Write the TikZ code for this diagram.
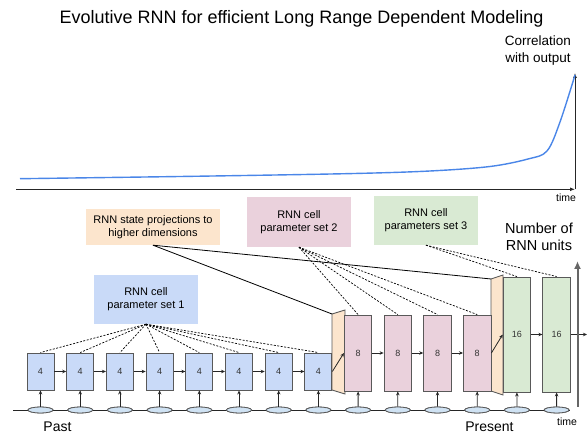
\documentclass[tikz,border=0pt]{standalone}
\usepackage{fontspec}
\setmainfont{Liberation Sans}
\usetikzlibrary{arrows.meta,shapes.geometric}
\definecolor{cblue}{HTML}{C9DAF8}
\definecolor{cpink}{HTML}{EAD1DC}
\definecolor{cgreen}{HTML}{D9EAD3}
\definecolor{corange}{HTML}{FCE5CD}
\definecolor{cinput}{HTML}{CFE2F3}
\definecolor{edgegray}{HTML}{595959}
\definecolor{curveblue}{HTML}{4A86E8}
\begin{document}
\begin{tikzpicture}[x=1pt,y=-1pt,
  cellbox/.style={draw=edgegray, line width=0.9pt, inner sep=0pt, font=\fontsize{9}{10}\selectfont, text=black!80},
  bluecell/.style={cellbox, fill=cblue, minimum width=27pt, minimum height=37pt},
  pinkcell/.style={cellbox, fill=cpink, minimum width=27.5pt, minimum height=76pt},
  greencell/.style={cellbox, fill=cgreen, minimum width=27.5pt, minimum height=115pt},
  param/.style={inner sep=0pt, align=center, font=\fontsize{11}{13}\selectfont},
  inputell/.style={ellipse, draw=edgegray, fill=cinput, line width=0.8pt, minimum width=25pt, minimum height=6pt, inner sep=0pt},
  flow/.style={-{Stealth[length=4pt,width=3.5pt]}, line width=0.8pt, draw=black!85},
  paramlink/.style={dash pattern=on 2pt off 1.5pt, line width=0.7pt},
  trapbox/.style={draw=edgegray, fill=corange, line width=0.9pt},
  axisline/.style={line width=1pt, draw=black!85, -{Latex[length=5pt,width=4pt]}},
  lbl/.style={inner sep=0pt, align=center}
]
\useasboundingbox (0,0) rectangle (587,435);

% ---------- title ----------
\node[lbl, font=\fontsize{18}{20}\selectfont] (title) at (301.5,19) {Evolutive RNN for efficient Long Range Dependent Modeling};

% ---------- top chart ----------
\coordinate (o) at (16,189.3);
\coordinate (xend) at (575,189.3);
\coordinate (ycorner) at (575,189.3);
\coordinate (yend) at (575,73);
\draw[axisline] (o) -- (xend);
\draw[axisline] (ycorner) -- (yend);
\draw[curveblue, line width=1.4pt] plot[smooth, tension=0.55] coordinates
  {(20,178.7) (200,176.2) (350,173.6) (430,171) (490,166.5) (528,159) (547,151) (560,122) (575,75)};
\node[lbl, font=\fontsize{13.5}{17}\selectfont] (corr) at (538,50.5) {Correlation\\with output};
\node[lbl, font=\fontsize{10.5}{12}\selectfont] (time1) at (566,197.5) {time};

% ---------- parameter boxes ----------
\node[param, fill=corange, minimum width=134pt, minimum height=36pt] (proj) at (153,227) {RNN state projections to\\higher dimensions};
\node[param, fill=cblue, minimum width=104pt, minimum height=49pt] (p1) at (146,299.5) {RNN cell\\parameter set 1};
\node[param, fill=cpink, minimum width=104pt, minimum height=50pt] (p2) at (299,222) {RNN cell\\parameter set 2};
\node[param, fill=cgreen, minimum width=104pt, minimum height=49pt] (p3) at (426,220.5) {RNN cell\\parameters set 3};

% ---------- base line and inputs ----------
\coordinate (base0) at (13,410);
\foreach \n in {1,...,14} {
  \node[inputell] (e\n) at ({40.5+39.7*(\n-1)},410) {};
}
\draw[line width=0.9pt, draw=black!85] (base0) -- (e14.east);
\foreach \n in {1,...,14} {
  \node[inputell] at (e\n) {};
}

% ---------- projection trapezoids ----------
\coordinate (t1a) at (332,314);
\coordinate (t1b) at (345,310);
\coordinate (t1c) at (345,394);
\coordinate (t1d) at (332,390);
\coordinate (t2a) at (491,279);
\coordinate (t2b) at (503,275);
\coordinate (t2c) at (503,395);
\coordinate (t2d) at (491,391);
\draw[trapbox] (t1a) -- (t1b) -- (t1c) -- (t1d) -- cycle;
\draw[trapbox] (t2a) -- (t2b) -- (t2c) -- (t2d) -- cycle;

% ---------- cells ----------
\foreach \i in {1,...,8} {
  \node[bluecell] (b\i) at ({40.5+39.7*(\i-1)},371.5) {4};
}
\foreach \j in {1,...,4} {
  \node[pinkcell] (k\j) at ({358.1+39.7*(\j-1)},353) {8};
}
\foreach \g in {1,2} {
  \node[greencell] (g\g) at ({516.9+39.7*(\g-1)},334.5) {16};
}

% ---------- recurrent arrows ----------
\foreach \i [evaluate=\i as \nx using int(\i+1)] in {1,...,7} {
  \draw[flow] (b\i.east) -- (b\nx.west);
}
\draw[flow] (b8.east) -- (k1.west);
\foreach \j [evaluate=\j as \nx using int(\j+1)] in {1,2,3} {
  \draw[flow] (k\j.east) -- (k\nx.west);
}
\draw[flow] (k4.east) -- (g1.west);
\draw[flow] (g1.east) -- (g2.west);
\coordinate (outend) at (587,334.5);
\draw[flow] (g2.east) -- (outend);

% ---------- input arrows ----------
\foreach \i in {1,...,8} {
  \draw[flow] (e\i.north) -- (b\i.south);
}
\foreach \j [evaluate=\j as \n using int(\j+8)] in {1,...,4} {
  \draw[flow] (e\n.north) -- (k\j.south);
}
\foreach \g [evaluate=\g as \n using int(\g+12)] in {1,2} {
  \draw[flow] (e\n.north) -- (g\g.south);
}

% ---------- parameter links ----------
\foreach \i in {1,...,8} {
  \draw[paramlink] (p1.south) -- (b\i.north);
}
\foreach \j in {1,...,4} {
  \draw[paramlink] (p2.south) -- (k\j.north);
}
\foreach \g in {1,2} {
  \draw[paramlink] (p3.south) -- (g\g.north);
}
\draw[line width=0.8pt] (proj.south) -- (t1a);
\draw[line width=0.8pt] (proj.south) -- (t2a);

% ---------- bottom axis and labels ----------
\coordinate (vax0) at (577.5,407);
\coordinate (vax1) at (577.5,261);
\draw[line width=2pt, draw=black!60, -{Latex[length=8pt,width=7pt]}] (vax0) -- (vax1);
\node[lbl, font=\fontsize{14.5}{17}\selectfont] (units) at (539,236.5) {Number of\\RNN units};
\node[lbl, font=\fontsize{10.5}{12}\selectfont] (time2) at (567,422) {time};
\node[lbl, font=\fontsize{14}{17}\selectfont] (past) at (57.5,427) {Past};
\node[lbl, font=\fontsize{14}{17}\selectfont] (present) at (489.5,427) {Present};
\end{tikzpicture}
\end{document}
